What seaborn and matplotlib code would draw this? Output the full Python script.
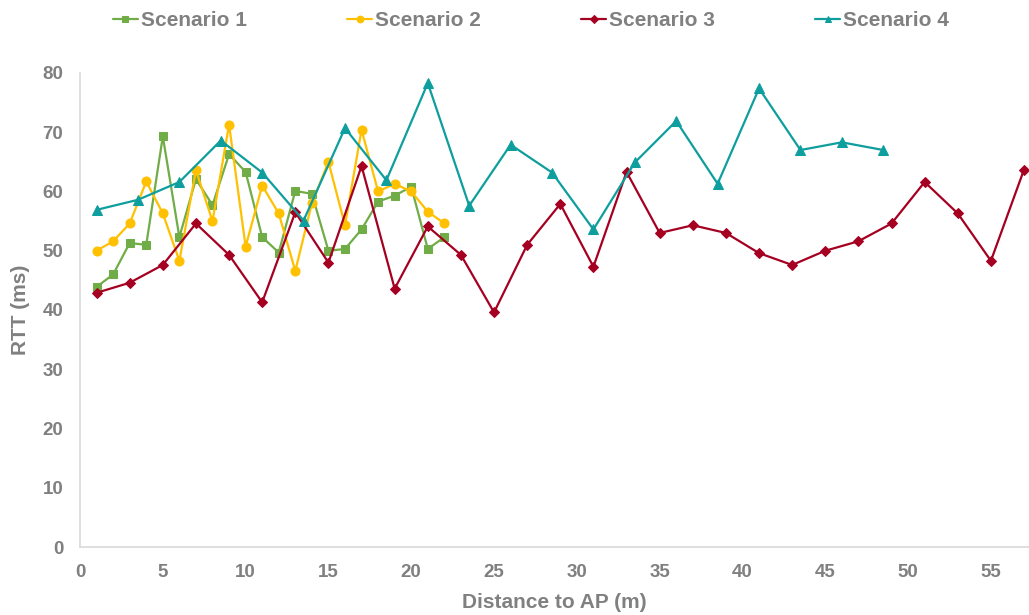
import seaborn as sns
import matplotlib.pyplot as plt
import numpy as np

# Scenario data
s1_x = list(range(1, 23))
s1_y = [43.9, 46.0, 51.3, 51.0, 69.3, 52.3, 62.1, 57.7, 66.3, 63.3, 52.3,
        49.7, 60.1, 59.6, 50.0, 50.3, 53.6, 58.3, 59.3, 60.8, 50.3, 52.3]

s2_x = list(range(1, 23))
s2_y = [50.0, 51.6, 54.6, 61.7, 56.3, 48.3, 63.6, 55.0, 71.3, 50.7, 61.0,
        56.3, 46.6, 58.0, 65.0, 54.3, 70.4, 60.0, 61.3, 60.0, 56.6, 54.6]

s3_x = list(range(1, 58, 2))
s3_y = [42.9, 44.6, 47.6, 54.6, 49.3, 41.3, 56.5, 48.0, 64.3, 43.6, 54.1,
        49.3, 39.6, 51.0, 57.9, 47.3, 63.3, 53.0, 54.3, 53.0, 49.6, 47.6,
        50.0, 51.6, 54.6, 61.6, 56.3, 48.3, 63.7]

s4_x = [1, 3.5, 6, 8.5, 11, 13.5, 16, 18.5, 21, 23.5, 26, 28.5, 31, 33.5,
        36, 38.5, 41, 43.5, 46, 48.5]
s4_y = [56.9, 58.6, 61.6, 68.6, 63.2, 55.1, 70.7, 61.9, 78.3, 57.6, 67.9,
        63.2, 53.6, 64.9, 71.9, 61.3, 77.4, 67.0, 68.3, 67.0]

labels = ["Scenario 1", "Scenario 2", "Scenario 3", "Scenario 4"]
colors = ["#70AD47", "#FFC000", "#A50021", "#0E9E9E"]
markers = ["s", "o", "D", "^"]
msizes = [6, 6.5, 5, 6.5]

sns.set_style("white")
plt.rcParams['font.family'] = ['Liberation Sans', 'DejaVu Sans']
grey = "#808080"

fig = plt.figure(figsize=(10.29, 6.15), dpi=100)
ax = fig.add_axes([80 / 1029, 1 - 547 / 615, 1 - 80 / 1029, (547 - 73) / 615])

series = [(s1_x, s1_y), (s2_x, s2_y), (s3_x, s3_y), (s4_x, s4_y)]
for (xs, ys), lab, c, m, ms in zip(series, labels, colors, markers, msizes):
    sns.lineplot(x=xs, y=ys, ax=ax, color=c, marker=m, markersize=ms,
                 markeredgecolor=c, linewidth=1.6, label=lab, sort=False)

ax.set_xlim(0, 57.3)
ax.set_ylim(0, 80)
ax.set_xticks(np.arange(0, 56, 5))
ax.set_yticks(np.arange(0, 81, 10))
ax.tick_params(length=0, pad=12, labelsize=13.5, labelcolor=grey)
for t in ax.get_xticklabels() + ax.get_yticklabels():
    t.set_fontweight("bold")

ax.set_xlabel("Distance to AP (m)", fontsize=15, fontweight="bold", color=grey, labelpad=9)
ax.set_ylabel("RTT (ms)", fontsize=15, fontweight="bold", color=grey, labelpad=9)

for side in ["top", "right"]:
    ax.spines[side].set_visible(False)
for side in ["left", "bottom"]:
    ax.spines[side].set_color("#D9D9D9")
    ax.spines[side].set_linewidth(1.2)

handles, labs = ax.get_legend_handles_labels()
ax.get_legend().remove()
leg = fig.legend(handles, labs, loc="center", bbox_to_anchor=(0.516, 0.967),
                 ncol=4, frameon=False, handlelength=1.2, handletextpad=0.15,
                 columnspacing=4.8, markerscale=0.75,
                 prop={"size": 15, "weight": "bold"})
for t in leg.get_texts():
    t.set_color(grey)

fig.savefig("out.png", dpi=100)
